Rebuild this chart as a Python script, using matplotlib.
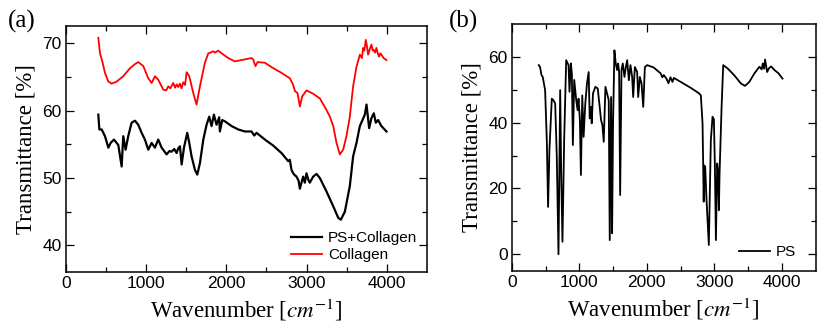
import matplotlib
matplotlib.use('Agg')
import matplotlib.pyplot as plt

# (a) Collagen
wn_col = [403, 424, 457, 486, 528, 569, 631, 714, 798, 860, 901, 964, 1026, 1068, 1109, 1150,
          1213, 1250, 1275, 1300, 1337, 1360, 1380, 1400, 1420, 1440, 1462, 1485, 1504, 1520, 1537,
          1587, 1628, 1670, 1732, 1774, 1800, 1836, 1857, 1898, 1940, 2023, 2106, 2189, 2272, 2313,
          2335, 2347, 2363, 2388, 2480, 2584, 2687, 2791, 2833, 2854, 2887, 2916, 2945, 2999, 3082,
          3165, 3248, 3290, 3332, 3373, 3414, 3456, 3497, 3539, 3580, 3622, 3664, 3690, 3705, 3720,
          3738, 3752, 3767, 3790, 3809, 3825, 3838, 3855, 3871, 3890, 3904, 3920, 3933, 3960, 3996]
t_col = [70.8, 68.5, 67.1, 65.6, 64.3, 64.0, 64.3, 65.1, 66.3, 66.9, 67.2, 66.6, 64.8, 64.1, 65.1, 64.6,
         63.1, 63.0, 63.6, 63.3, 64.1, 63.4, 63.9, 63.5, 64.0, 63.3, 64.2, 63.8, 65.7, 65.4, 65.1,
         62.6, 60.9, 63.6, 67.1, 68.5, 68.6, 68.8, 68.6, 68.9, 68.5, 67.8, 67.3, 67.5, 67.7, 67.8,
         67.6, 67.1, 66.6, 67.2, 67.1, 66.3, 65.6, 64.8, 63.8, 62.9, 62.6, 60.6, 62.1, 63.0, 62.5,
         61.8, 60.1, 59.1, 57.7, 55.2, 53.5, 54.2, 56.2, 59.1, 63.6, 66.5, 68.3, 67.8, 69.3, 68.9,
         70.5, 69.6, 68.3, 69.2, 69.8, 68.9, 69.0, 68.6, 69.3, 68.4, 68.0, 68.5, 68.3, 67.8, 67.5]

# (a) PS + Collagen
wn_psc = [403, 416, 445, 486, 528, 557, 598, 652, 694, 714, 743, 776, 818, 860, 901, 943, 984,
          1026, 1068, 1109, 1150, 1192, 1255, 1290, 1317, 1350, 1379, 1400, 1421, 1442, 1471, 1512,
          1537, 1566, 1608, 1637, 1670, 1712, 1753, 1786, 1815, 1844, 1877, 1910, 1919, 1948, 1982,
          2065, 2148, 2231, 2313, 2347, 2376, 2480, 2584, 2687, 2770, 2791, 2812, 2833, 2845, 2874,
          2900, 2916, 2957, 2978, 2999, 3020, 3040, 3082, 3124, 3165, 3248, 3332, 3394, 3427, 3477,
          3539, 3580, 3622, 3664, 3697, 3726, 3747, 3780, 3809, 3838, 3863, 3892, 3933, 3996]
t_psc = [59.4, 57.2, 57.2, 56.2, 54.5, 55.2, 55.7, 54.9, 51.7, 56.2, 54.2, 56.2, 58.2, 58.5, 57.9,
         56.7, 55.7, 54.2, 55.2, 54.5, 55.7, 54.5, 53.5, 54.0, 53.9, 54.3, 53.7, 54.4, 54.7, 52.0,
         54.5, 56.7, 55.2, 53.2, 51.2, 50.5, 52.2, 55.7, 57.9, 59.1, 57.7, 59.4, 57.9, 59.0, 56.9,
         58.6, 58.4, 57.7, 57.2, 56.9, 56.9, 56.3, 56.7, 55.7, 54.8, 53.7, 52.5, 52.7, 51.2, 50.7,
         50.5, 50.2, 49.6, 48.4, 50.2, 49.3, 50.7, 49.8, 49.3, 50.2, 50.6, 50.0, 48.0, 45.8, 44.1,
         43.8, 45.0, 48.8, 53.2, 55.2, 57.7, 58.6, 59.4, 60.9, 57.4, 58.9, 59.6, 58.2, 58.6, 57.7,
         56.9]

# (b) PS
wn_ps = [400, 419, 440, 459, 494, 519, 538, 558, 593, 618, 643, 667, 692, 717, 732, 751, 776, 806,
         841, 855, 875, 890, 905, 925, 955, 975, 989, 1009, 1024, 1044, 1064, 1089, 1114, 1139,
         1154, 1174, 1184, 1203, 1238, 1273, 1302, 1322, 1342, 1362, 1387, 1411, 1436, 1451, 1471,
         1486, 1500, 1520, 1540, 1560, 1575, 1590, 1605, 1625, 1644, 1669, 1689, 1709, 1734, 1758,
         1783, 1798, 1823, 1857, 1872, 1897, 1922, 1947, 1971, 2006, 2100, 2204, 2230, 2250, 2290,
         2320, 2350, 2380, 2400, 2502, 2650, 2774, 2800, 2825, 2834, 2842, 2850, 2864, 2884, 2918,
         2948, 2973, 2993, 3008, 3023, 3042, 3057, 3067, 3077, 3092, 3107, 3131, 3196, 3295, 3394,
         3454, 3518, 3593, 3667, 3700, 3717, 3735, 3751, 3781, 3810, 3841, 3890, 3950, 4009]
t_ps = [57.5, 56.9, 54.5, 53.9, 49.9, 34.7, 14.4, 31.7, 47.3, 46.8, 45.8, 29.6, 0.0, 49.9, 24.6,
        3.8, 34.7, 59.0, 57.5, 49.4, 58.0, 55.0, 33.2, 53.0, 46.8, 43.8, 47.3, 40.8, 24.1, 48.3,
        35.7, 45.8, 51.9, 55.4, 41.3, 44.8, 39.8, 48.9, 50.9, 50.4, 44.8, 40.8, 39.3, 34.2, 50.9,
        48.9, 46.8, 4.3, 47.8, 6.4, 39.8, 62.0, 58.0, 56.0, 58.0, 55.4, 18.0, 56.0, 58.0, 53.9,
        56.9, 59.0, 52.9, 57.5, 53.9, 47.8, 56.9, 55.4, 47.8, 53.9, 51.9, 44.8, 56.9, 57.5, 56.8,
        55.0, 53.8, 54.5, 53.4, 52.0, 53.8, 52.4, 53.6, 52.4, 50.6, 48.9, 48.3, 39.8, 27.6, 16.0,
        27.0, 26.6, 16.5, 2.8, 34.7, 41.8, 41.0, 26.6, 4.3, 27.6, 24.6, 13.4, 24.6, 34.7, 44.8,
        57.5, 56.5, 54.4, 51.9, 51.2, 52.4, 55.0, 57.0, 56.2, 58.0, 56.4, 59.2, 55.4, 56.6, 57.1,
        56.0, 55.0, 53.4]

x_ticks = [0, 1000, 2000, 3000, 4000]

plt.rcParams['mathtext.fontset'] = 'stix'
sans = 'Liberation Sans'
serif = 'Liberation Serif'

fig = plt.figure(figsize=(8.27, 3.27), dpi=100)
ax1 = fig.add_axes([0.0798, 0.1673, 0.4364, 0.7541])
ax2 = fig.add_axes([0.6188, 0.1722, 0.3675, 0.7544])

ax1.plot(wn_psc, t_psc, color='black', lw=1.6, label='PS+Collagen')
ax1.plot(wn_col, t_col, color='red', lw=1.3, label='Collagen')
ax1.set_xlim(0, 4500)
ax1.set_ylim(36, 72.6)
ax1.set_yticks([40, 50, 60, 70])
ax1.set_yticks(range(40, 75, 5), minor=True)

ax2.plot(wn_ps, t_ps, color='black', lw=1.3, label='PS')
ax2.set_xlim(0, 4500)
ax2.set_ylim(-5, 70)
ax2.set_yticks([0, 20, 40, 60])
ax2.set_yticks(range(0, 70, 10), minor=True)

for ax in (ax1, ax2):
    ax.set_xticks(x_ticks)
    ax.set_xticks(range(0, 4500, 500), minor=True)
    ax.tick_params(which='both', direction='in', top=True, right=True, width=0.9, pad=3)
    ax.tick_params(which='major', length=6)
    ax.tick_params(which='minor', length=3.5)
    for lab in ax.get_xticklabels() + ax.get_yticklabels():
        lab.set_fontfamily(sans)
        lab.set_fontsize(12.5)
    for s in ax.spines.values():
        s.set_linewidth(1.1)
    ax.set_xlabel(r'Wavenumber [$cm^{-1}$]', fontfamily=serif, fontsize=16.5, labelpad=4)
    ax.set_ylabel('Transmittance [%]', fontfamily=serif, fontsize=16.5, labelpad=4)

ax1.legend(loc='lower right', bbox_to_anchor=(0.99, 0.015), frameon=False,
           prop={'family': sans, 'size': 11}, handlelength=2.0, handletextpad=0.4,
           labelspacing=0.2, borderaxespad=0.2, borderpad=0.2)
ax2.legend(loc='lower right', bbox_to_anchor=(0.96, 0.015), frameon=False,
           prop={'family': sans, 'size': 11}, handlelength=2.0, handletextpad=0.4,
           borderaxespad=0.3, borderpad=0.2)

fig.text(0.009, 0.935, '(a)', fontfamily=serif, fontsize=18, va='center', ha='left')
fig.text(0.543, 0.935, '(b)', fontfamily=serif, fontsize=18, va='center', ha='left')

fig.savefig('out.png', dpi=100)
